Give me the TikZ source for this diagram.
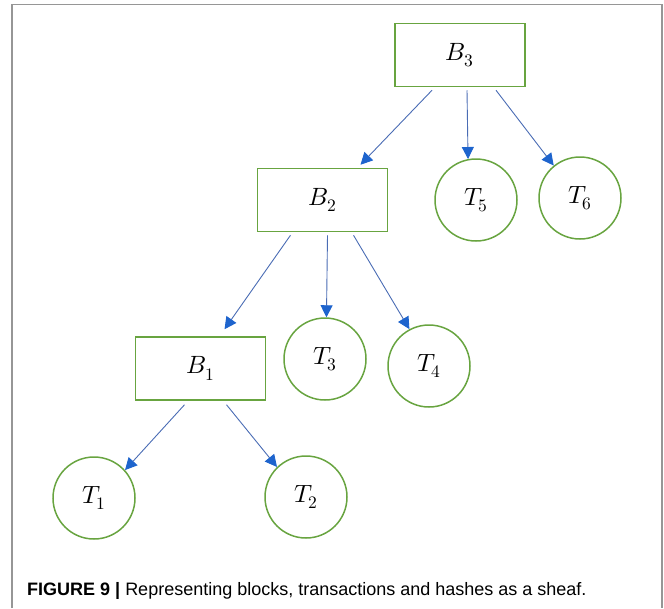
\documentclass[tikz,border=0pt]{standalone}
\usepackage{fontspec}
\usepackage{unicode-math}
\setmathfont{Latin Modern Math}
\newfontfamily\capfont{Liberation Sans}
\usetikzlibrary{arrows.meta,calc}
\definecolor{boxgreen}{RGB}{104,164,64}
\definecolor{arrline}{RGB}{74,108,180}
\definecolor{arrhead}{RGB}{30,100,205}
\definecolor{framegray}{RGB}{150,150,150}
\newcommand\lblsize{\fontsize{25}{25}\selectfont}
\begin{document}
\begin{tikzpicture}[x=1pt,y=-1pt,
  blockbox/.style={draw=boxgreen,line width=1.5pt,fill=white,minimum width=130pt,minimum height=63pt,inner sep=0pt,font=\lblsize},
  txcircle/.style={draw=boxgreen,line width=1.5pt,circle,minimum size=82pt,inner sep=0pt,font=\lblsize},
  arr/.style={draw=arrline,line width=0.9pt,-{Triangle[length=12pt,width=12pt,color=arrhead]}},
  framel/.style={draw=framegray,line width=1.2pt}]
\useasboundingbox (0,0) rectangle (664,608);
\draw[framel] (12,608) -- (12,4.5) -- (662,4.5) -- (662,608);
\node[blockbox] (B3) at (460,55) {$B_3$};
\node[blockbox] (B2) at (322.5,200) {$B_2$};
\node[blockbox] (B1) at (200.5,368.5) {$B_1$};
\node[txcircle] (T5) at (476,200) {$T_5$};
\node[txcircle] (T6) at (580,198) {$T_6$};
\node[txcircle] (T3) at (325,359) {$T_3$};
\node[txcircle] (T4) at (429,366) {$T_4$};
\node[txcircle] (T1) at (94,498) {$T_1$};
\node[txcircle] (T2) at (306,497) {$T_2$};
\draw[arr] ($(B3.south)+(-28,3)$) -- ($(B2.north)+(38,-3)$);
\draw[arr] ($(B3.south)+(7,3)$) -- (T5.101);
\draw[arr] ($(B3.south)+(36,3)$) -- (T6.129);
\draw[arr] ($(B2.south)+(-32,3)$) -- ($(B1.north)+(24,-7)$);
\draw[arr] ($(B2.south)+(5,3)$) -- (T3.88);
\draw[arr] ($(B2.south)+(31,3)$) -- (T4.118);
\draw[arr] ($(B1.south)+(-16,4)$) -- (T1.42);
\draw[arr] ($(B1.south)+(26,4)$) -- (T2.134);
\node[anchor=base west,inner sep=0pt,font=\capfont\fontsize{18}{18}\selectfont] (cap) at (27,595) {\textbf{FIGURE 9 |} Representing blocks, transactions and hashes as a sheaf.};
\end{tikzpicture}
\end{document}
